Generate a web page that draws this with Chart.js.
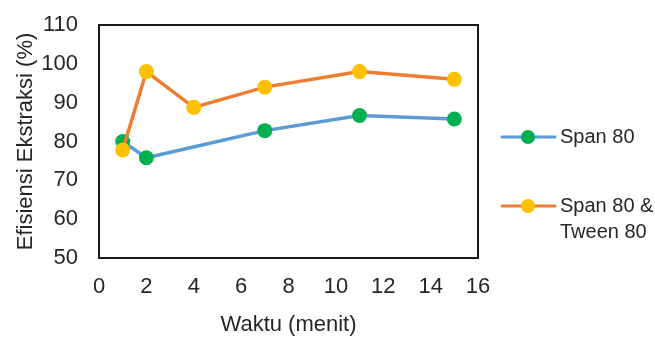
<!DOCTYPE html>
<html>
<head>
<meta charset="utf-8">
<script src="https://cdn.jsdelivr.net/npm/chart.js@4"></script>
<style>
  html, body { margin: 0; padding: 0; background: #fff; }
  #wrap { width: 655px; height: 338px; }
</style>
</head>
<body>
<div id="wrap"><canvas id="c"></canvas></div>
<script>
// Extraction time (minutes) and efficiency (%) for each surfactant system
const spanTimes = [1, 2, 7, 11, 15];
const spanEfficiency = [80, 75.8, 82.8, 86.7, 85.8];
const mixTimes = [1, 2, 4, 7, 11, 15];
const mixEfficiency = [77.8, 98, 88.8, 94, 98, 96];
const seriesNames = ['Span 80', 'Span 80 & Tween 80'];
const xTicks = [0, 2, 4, 6, 8, 10, 12, 14, 16];
const yTicks = [50, 60, 70, 80, 90, 100, 110];

const FONT = "'Liberation Sans', Arial, sans-serif";
const TEXT = '#262626';

const toPoints = (xs, ys) => xs.map((x, i) => ({ x, y: ys[i] }));

// Frame around the plot area
const frame = {
  id: 'frame',
  beforeDatasetsDraw(chart) {
    const a = chart.chartArea, ctx = chart.ctx;
    ctx.save();
    ctx.strokeStyle = '#1a1a1a';
    ctx.lineWidth = 2;
    ctx.strokeRect(a.left, a.top, a.right - a.left, a.bottom - a.top);
    ctx.restore();
  }
};

// Legend on the right, with wrapped label lines
const sideLegend = {
  id: 'sideLegend',
  afterDraw(chart) {
    const ctx = chart.ctx, a = chart.chartArea;
    const items = [
      { ds: chart.data.datasets[0], y: a.top + 112, lines: ['Span 80'] },
      { ds: chart.data.datasets[1], y: a.top + 181, lines: ['Span 80 &', 'Tween 80'] }
    ];
    const x0 = a.right + 24, x1 = a.right + 77, mx = a.right + 50, tx = a.right + 82;
    ctx.save();
    items.forEach(it => {
      ctx.strokeStyle = it.ds.borderColor;
      ctx.lineWidth = 3;
      ctx.lineCap = 'round';
      ctx.beginPath();
      ctx.moveTo(x0, it.y);
      ctx.lineTo(x1, it.y);
      ctx.stroke();
      ctx.fillStyle = it.ds.pointBackgroundColor;
      ctx.beginPath();
      ctx.arc(mx, it.y, 7, 0, Math.PI * 2);
      ctx.fill();
      ctx.fillStyle = TEXT;
      ctx.font = '20px ' + FONT;
      ctx.textBaseline = 'middle';
      ctx.textAlign = 'left';
      it.lines.forEach((t, i) => ctx.fillText(t, tx, it.y + i * 26));
    });
    ctx.restore();
  }
};

new Chart(document.getElementById('c'), {
  type: 'line',
  data: {
    datasets: [
      {
        label: seriesNames[0],
        data: toPoints(spanTimes, spanEfficiency),
        borderColor: '#5B9BD5',
        backgroundColor: '#00B050',
        pointBackgroundColor: '#00B050',
        pointBorderWidth: 0,
        pointRadius: 7.5,
        borderWidth: 3.5,
        tension: 0,
        order: 1
      },
      {
        label: seriesNames[1],
        data: toPoints(mixTimes, mixEfficiency),
        borderColor: '#ED7D31',
        backgroundColor: '#FFC000',
        pointBackgroundColor: '#FFC000',
        pointBorderWidth: 0,
        pointRadius: 7.5,
        borderWidth: 3.5,
        tension: 0,
        order: 0
      }
    ]
  },
  options: {
    responsive: true,
    maintainAspectRatio: false,
    animation: false,
    layout: { padding: { left: 0, right: 177, top: 25, bottom: 0 } },
    plugins: {
      legend: { display: false },
      tooltip: { enabled: false }
    },
    scales: {
      x: {
        type: 'linear',
        min: 0, max: 16,
        afterBuildTicks(s) { s.ticks = xTicks.map(v => ({ value: v })); },
        afterFit(s) { s.height = 80; s.paddingLeft = 0; s.paddingRight = 0; },
        grid: { display: false, drawTicks: false },
        border: { display: false },
        ticks: { color: TEXT, font: { family: FONT, size: 22 }, padding: 16, maxRotation: 0 },
        title: { display: true, text: 'Waktu (menit)', color: TEXT, font: { family: FONT, size: 22 }, padding: { top: 4, bottom: 0 } }
      },
      y: {
        min: 50, max: 110,
        afterBuildTicks(s) { s.ticks = yTicks.map(v => ({ value: v })); },
        afterFit(s) { s.width = 99; s.paddingTop = 0; s.paddingBottom = 0; },
        grid: { display: false, drawTicks: false },
        border: { display: false },
        ticks: { color: TEXT, font: { family: FONT, size: 22 }, padding: 21 },
        title: { display: true, text: 'Efisiensi Ekstraksi (%)', color: TEXT, font: { family: FONT, size: 22 }, padding: { top: 13, bottom: 0 } }
      }
    }
  },
  plugins: [frame, sideLegend]
});
</script>
</body>
</html>
